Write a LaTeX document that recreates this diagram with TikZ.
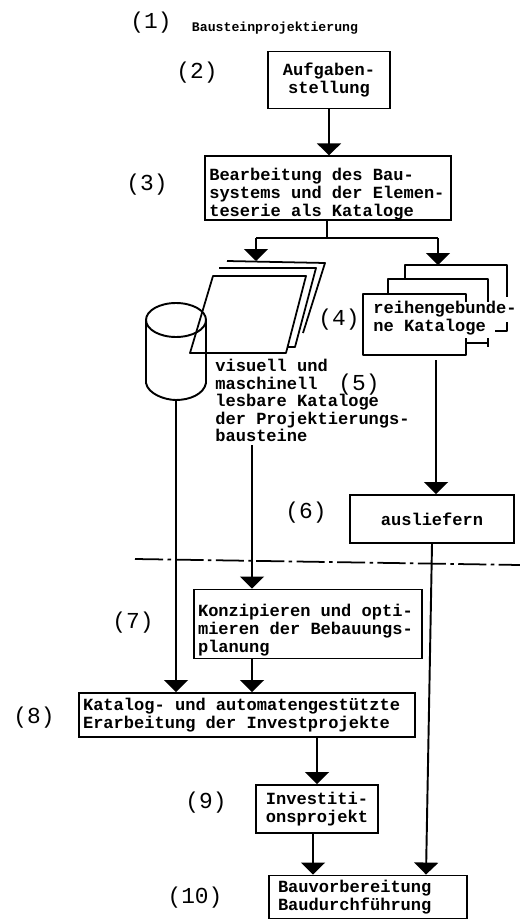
\documentclass[tikz,border=0pt]{standalone}
\usepackage{fontspec}
\setmonofont{Liberation Mono}
\usetikzlibrary{shapes.geometric, arrows.meta}

\begin{document}
\begin{tikzpicture}[
  x=0.02cm, y=-0.02cm,
  box/.style={draw, line width=1.1pt, inner xsep=2.5pt, inner ysep=0pt, align=flush left, font=\ttfamily\bfseries\fontsize{9.7}{10}\selectfont},
  caption/.style={inner sep=0pt, align=left, font=\ttfamily\bfseries\fontsize{9.7}{10}\selectfont},
  number/.style={inner sep=0pt, font=\ttfamily\fontsize{13}{13}\selectfont},
  sheet/.style={line width=1pt, line join=round},
  arrow/.style={-{Triangle[length=2.4mm, width=4.8mm]}, line width=1.1pt}
]
\useasboundingbox (0,0) rectangle (520,922);

% numbers
\node[number] (n1) at (151,23) {(1)};
\node[number] (n2) at (197,73) {(2)};
\node[number] (n3) at (147,185) {(3)};
\node[number] (n4) at (339,320) {(4)};
\node[number] (n5) at (359,385) {(5)};
\node[number] (n6) at (306,513) {(6)};
\node[number] (n7) at (133,623) {(7)};
\node[number] (n8) at (34,718) {(8)};
\node[number] (n9) at (206,803) {(9)};
\node[number] (n10) at (195,898) {(10)};

\node[inner sep=0pt, font=\ttfamily\bfseries\fontsize{7.5}{8}\selectfont] (title) at (275,28) {Bausteinprojektierung};

% boxes
\node[box, minimum width=2.44cm, minimum height=1.14cm, align=center] (task) at (329,80) {Aufgaben-\\stellung};
\node[box, text width=4.75cm, minimum height=1.26cm] (system) at (328,188) {\rule{0pt}{14pt}Bearbeitung des Bau-\\systems und der Elemen-\\teserie als Kataloge};
\node[box, minimum width=3.28cm, minimum height=0.96cm, align=center] (deliver) at (432,519) {ausliefern};
\node[box, text width=4.4cm, minimum height=1.38cm] (concept) at (308,624) {\rule{0pt}{14pt}Konzipieren und opti-\\mieren der Bebauungs-\\planung};
\node[box, text width=6.56cm, minimum height=0.88cm] (invest) at (247,715) {Katalog- und automatengestützte\\Erarbeitung der Investprojekte};
\node[box, minimum width=2.44cm, minimum height=0.96cm, align=center] (project) at (317,809) {Investiti-\\onsprojekt};
\node[box, inner xsep=5pt, text width=3.6cm, minimum height=0.86cm] (build) at (368,897) {Bauvorbereitung\\Baudurchführung};

% catalogues as sheets
\draw[sheet] (213,276) -- (306,276) -- (286,353) -- (190,353) -- cycle;
\draw[sheet] (219,268) -- (316,268) -- (295,347) -- (288,347);
\draw[sheet] (227,261) -- (325,263) -- (303,333);
\node[caption, anchor=north west] (visual) at (215,359) {visuell und\\maschinell\\lesbare Kataloge\\der Projektierungs-\\bausteine};

% store
\coordinate (storeOut) at (176,400);
\draw[line width=1.1pt] (176,320) ellipse (30 and 17);
\draw[line width=1.1pt] (146,320) -- (146,383) .. controls (148,394) and (165,400) .. (storeOut) .. controls (190,400) and (204,394) .. (206,383) -- (206,320);

% catalogues in rows
\draw[sheet] (466,302) -- (466,294) -- (363,294) -- (363,355) -- (466,355) -- (466,338);
\draw[sheet] (466,343) -- (488,343) (488,338) -- (488,347);
\draw[sheet] (388,294) -- (388,279) -- (488,279) -- (488,302);
\draw[sheet] (405,279) -- (405,265) -- (507,265) -- (507,297);
\draw[sheet] (507,322) -- (507,331) -- (495,331);
\node[caption, anchor=north west] (rows) at (373,301) {reihengebunde-\\ne Kataloge};

% boundary
\coordinate (lineA) at (135,559);
\coordinate (lineB) at (520,565);
\draw[line width=1pt, dash pattern=on 16pt off 2.5pt on 2pt off 2.5pt] (lineA) -- (lineB);

% connectors
\coordinate (split) at (327,238);
\coordinate (splitL) at (256,238);
\coordinate (splitR) at (438,238);
\coordinate (sheetsTop) at (256,261);
\coordinate (rowsTop) at (438,265);
\coordinate (rowsOut) at (436,360);
\coordinate (visualOut) at (252,445);
\draw[arrow] (task) -- (system.north -| task);
\draw[line width=1.1pt] (system.south -| split) -- (split);
\draw[line width=1.1pt] (splitL) -- (splitR);
\draw[arrow] (splitL) -- (sheetsTop);
\draw[arrow] (splitR) -- (rowsTop);
\draw[arrow] (rowsOut) -- (deliver.north -| rowsOut);
\draw[arrow] (visualOut) -- (concept.north -| visualOut);
\draw[arrow] (storeOut) -- (invest.north -| storeOut);
\draw[arrow] (concept.south -| visualOut) -- (invest.north -| visualOut);
\draw[arrow] (invest.south -| project) -- (project);
\draw[arrow] (project.south -| 313,0) -- (build.north -| 313,0);
\draw[arrow] (deliver.south) -- (build.north -| 426,0);

\end{tikzpicture}
\end{document}
